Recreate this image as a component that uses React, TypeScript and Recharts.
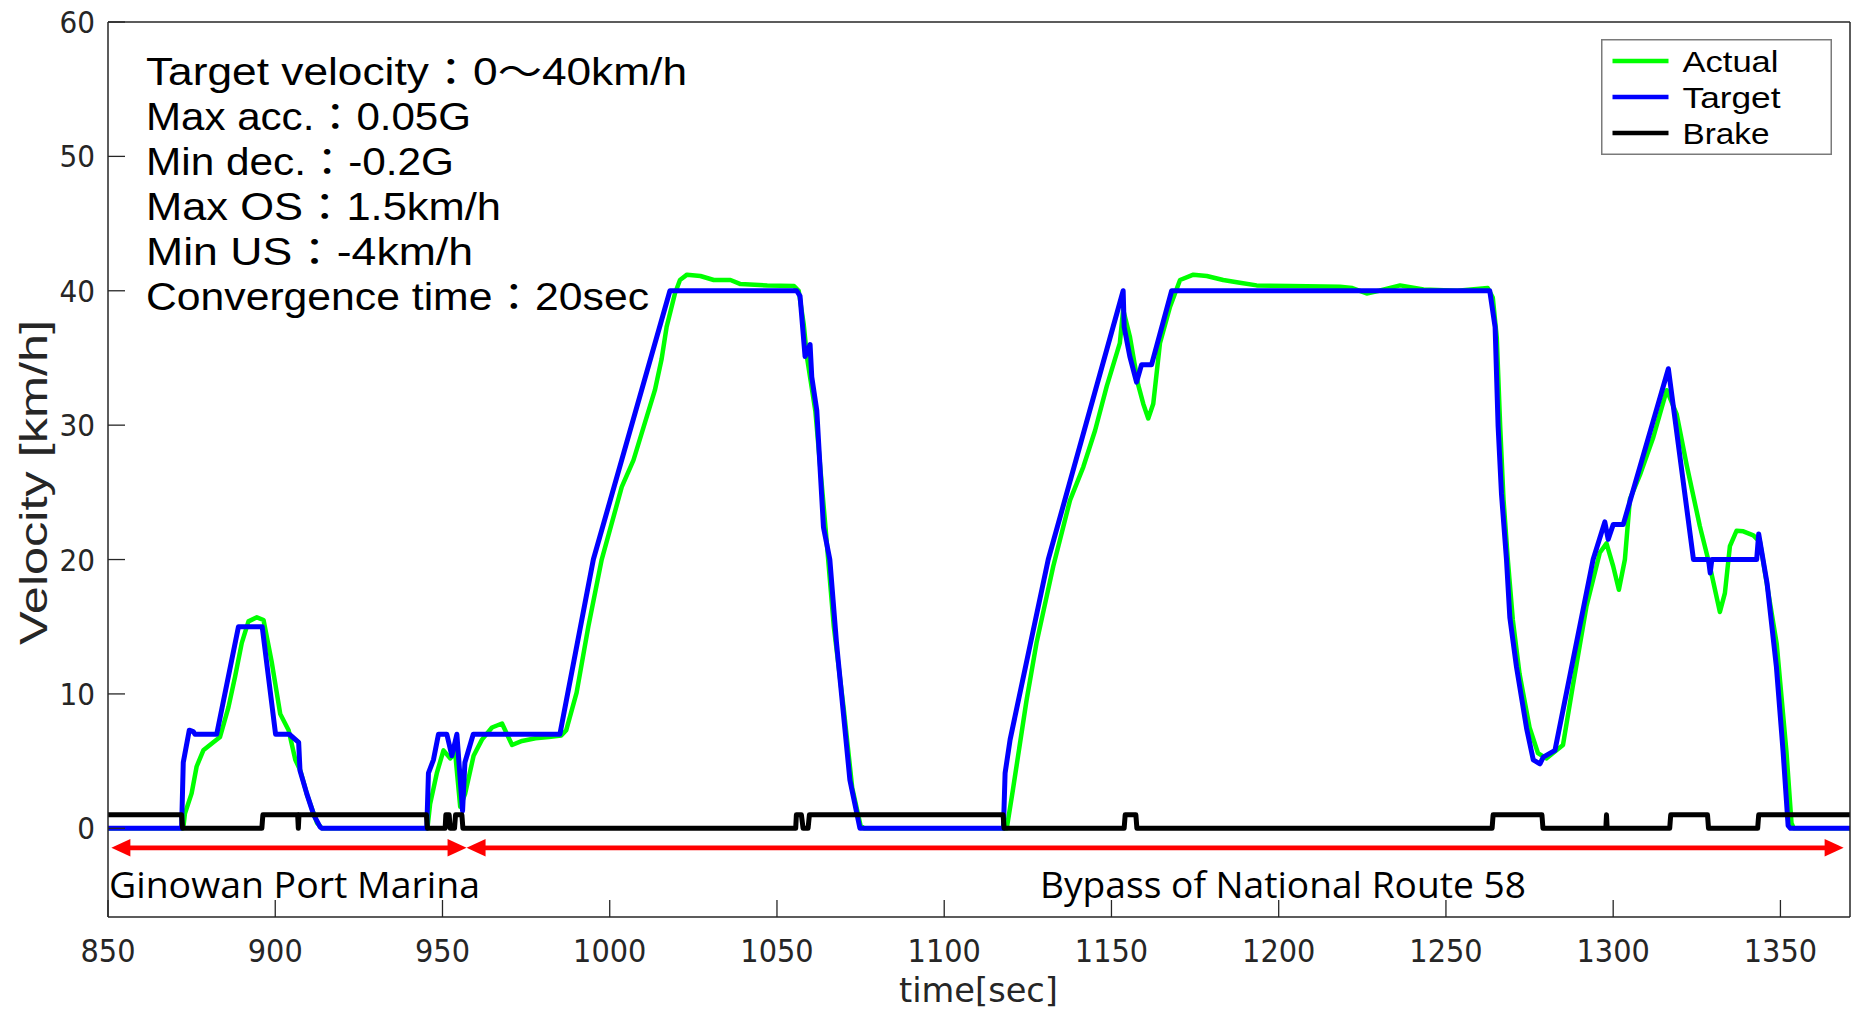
import React from 'react';
import { LineChart, Line, XAxis, YAxis, ReferenceLine, Legend } from 'recharts';

const xTicks = [850, 900, 950, 1000, 1050, 1100, 1150, 1200, 1250, 1300, 1350];
const yTicks = [0, 10, 20, 30, 40, 50, 60];
const xDomain: [number, number] = [850, 1370.8];
const yDomain: [number, number] = [-6.6, 60];

const actualTime = [
  850, 872.5, 873, 875, 876.5, 878.5, 881.5, 883.5, 886, 888, 890, 892, 894.5, 896.5, 899, 901.5, 904, 906, 907.5, 909.5, 912.5, 914,
  945.5, 946.3, 948.3, 950.3, 952.3, 953.8, 955.3, 956.8, 959.3, 961.8, 964.8, 967.8, 970.8, 973.8, 977.8, 981.8, 985.5,
  987, 990.1, 993.6, 997.6, 1003.6, 1007.1, 1013.5, 1015.5, 1017, 1019.5, 1021, 1023.1, 1027.1, 1031.1, 1036.1, 1039.1, 1047.1, 1055.1,
  1056.5, 1058, 1059, 1061.5, 1064.5, 1067, 1070, 1072.5, 1075, 1076,
  1118.7, 1120.5, 1124.6, 1127.6, 1132.6, 1137.6, 1141.6, 1145.1, 1148.6, 1152.5, 1153.5, 1155.5, 1158, 1159.5, 1161, 1162.5, 1164.5,
  1167.5, 1170.5, 1174.5, 1178.5, 1183.4, 1188.4, 1193.4, 1203.4, 1218.3, 1222, 1226.3, 1230, 1236.3, 1243.3, 1253.4, 1262.5,
  1264, 1265.2, 1266.2, 1267.2, 1268.5, 1270, 1272, 1275, 1277.5, 1280, 1285, 1288, 1292, 1296, 1298, 1300, 1301.7, 1303.5, 1305,
  1308, 1312, 1316, 1319, 1322, 1325.9, 1328.9, 1331.9, 1333.4, 1334.9, 1336.9, 1338.9, 1341.9, 1343.9, 1348.9, 1351.8, 1353.3, 1354, 1370.8,
];
const actualVel = [
  0, 0, 1.1, 2.6, 4.6, 5.8, 6.4, 6.8, 9.0, 11.3, 13.8, 15.4, 15.7, 15.5, 12.3, 8.5, 7.3, 5.1, 4.3, 2.5, 0.4, 0,
  0, 1.8, 4.1, 5.8, 5.2, 5.6, 1.6, 2.6, 5.4, 6.6, 7.5, 7.8, 6.2, 6.5, 6.7, 6.8, 6.9,
  7.3, 10.1, 15.0, 20.0, 25.4, 27.4, 32.6, 34.9, 37.3, 39.8, 40.8, 41.2, 41.1, 40.8, 40.8, 40.5, 40.4, 40.35,
  40.0, 37.5, 35.0, 31.0, 22.4, 15.0, 8.8, 3.0, 0.2, 0,
  0, 2.8, 9.5, 13.8, 19.5, 24.4, 26.9, 29.6, 32.9, 36.1, 38.6, 36.6, 33.0, 31.6, 30.5, 31.6, 36.1,
  38.8, 40.8, 41.2, 41.1, 40.8, 40.6, 40.4, 40.35, 40.3, 40.2, 39.8, 40.0, 40.4, 40.1, 40.0, 40.2,
  39.5, 36.5, 30.0, 24.5, 20.0, 15.5, 11.5, 7.5, 5.6, 5.2, 6.2, 10.7, 16.5, 20.5, 21.2, 19.5, 17.75, 20.0, 24.5,
  26.3, 29.1, 32.6, 30.8, 27.0, 22.5, 19.5, 16.1, 17.5, 21.0, 22.15, 22.1, 21.8, 21.3, 13.7, 5.7, 0.4, 0, 0,
];

const targetTime = [
  850, 872.0, 872.5, 874.3, 875.5, 876, 882.5, 889.0, 896.1, 900.1, 904.2, 907.0, 907.4, 909.4, 911.5, 913.4, 914,
  945.3, 945.8, 947.3, 948.8, 951.3, 952.8, 954.3, 956.0, 956.7, 959.2, 985.1, 995.1, 1018.0, 1055.9, 1056.9, 1058.4,
  1059.9, 1060.4, 1061.9, 1063.9, 1065.8, 1067.8, 1071.8, 1074.8,
  1117.7, 1118.2, 1119.7, 1131.1, 1153.5, 1153.8, 1155.5, 1157.5, 1159.0, 1162.0, 1168.0,
  1263.1, 1264.7, 1265.6, 1266.6, 1268.1, 1269.1, 1271.1, 1274.1, 1276.1, 1278.1, 1279.1, 1282.6, 1294.0, 1297.5, 1298.5,
  1300.0, 1303.0, 1316.5, 1324.0, 1328.5, 1329.0, 1329.5, 1342.9, 1343.5, 1346.0, 1348.8, 1350.8, 1352.3, 1353, 1370.8,
];
const targetVel = [
  0, 0, 4.9, 7.3, 7.2, 7.0, 7.0, 15.0, 15.0, 7.0, 7.0, 6.4, 4.3, 2.6, 1.0, 0.1, 0,
  0, 4.1, 5.1, 7.0, 7.0, 5.4, 7.0, 1.3, 4.9, 7.0, 7.0, 20.0, 40.0, 40.0, 39.6, 35.1,
  36.0, 33.6, 31.1, 22.4, 20.0, 13.8, 3.6, 0,
  0, 4.1, 6.6, 20.0, 40.0, 37.3, 35.1, 33.2, 34.5, 34.5, 40.0,
  40.0, 37.3, 29.9, 24.9, 20.0, 15.7, 12.0, 7.45, 5.1, 4.8, 5.3, 5.8, 20.0, 22.8, 21.5,
  22.6, 22.6, 34.2, 20.0, 20.0, 19.0, 20.0, 20.0, 21.9, 18.25, 12.0, 5.7, 0.2, 0, 0,
];

const brakeTime = [
  850, 872.0, 872.3, 896.0, 896.3, 906.7, 906.9, 907.1, 945.2, 945.5,
  950.8, 951.0, 952.0, 952.3, 953.6, 953.9, 955.8, 956.1,
  1055.6, 1055.8, 1057.3, 1057.8, 1059.3, 1059.7, 1117.6, 1117.9,
  1153.8, 1154.1, 1157.3, 1157.6, 1263.8, 1264.1, 1278.7, 1279.0,
  1297.8, 1298.0, 1298.2, 1316.9, 1317.2, 1328.2, 1328.5, 1343.2, 1343.5, 1370.8,
];
const brakeVal = [
  1, 1, 0, 0, 1, 1, 0, 1, 1, 0,
  0, 1, 1, 0, 0, 1, 1, 0,
  0, 1, 1, 0, 0, 1, 1, 0,
  0, 1, 1, 0, 0, 1, 1, 0,
  0, 1, 0, 0, 1, 1, 0, 0, 1, 1,
];

const seriesNames = ['Actual', 'Target', 'Brake'];
const seriesColors = ['#00FF00', '#0000FF', '#000000'];

const annotationLines = [
  'Target velocity：0〜40km/h',
  'Max acc.：0.05G',
  'Min dec.：-0.2G',
  'Max OS：1.5km/h',
  'Min US：-4km/h',
  'Convergence time：20sec',
];
const sectionNames = ['Ginowan Port Marina', 'Bypass of National Route 58'];
const sectionStart = [851, 957.2];
const sectionEnd = [957.2, 1368.9];
const arrowLevel = -1.45;

const xLabel = 'time[sec]';
const yLabel = 'Velocity [km/h]';

const toPoints = (ts: number[], vs: number[]) => ts.map((t, i) => ({ t, v: vs[i] }));
const actualData = toPoints(actualTime, actualVel);
const targetData = toPoints(targetTime, targetVel);
const brakeData = toPoints(brakeTime, brakeVal);

const ArrowShape = (props: any) => {
  const { x1, y1, x2 } = props;
  const hl = 19;
  const hw = 8.7;
  const y = y1;
  return (
    <g>
      <line x1={x1 + hl - 1} y1={y} x2={x2 - hl + 1} y2={y} stroke="#FF0000" strokeWidth={4.7} />
      <polygon points={`${x1},${y} ${x1 + hl},${y - hw} ${x1 + hl},${y + hw}`} fill="#FF0000" />
      <polygon points={`${x2},${y} ${x2 - hl},${y - hw} ${x2 - hl},${y + hw}`} fill="#FF0000" />
    </g>
  );
};

const legendTextLen = [96, 98, 87];
const LegendBox = () => (
  <svg width={231} height={116} style={{ display: 'block' }}>
    <rect x={0.75} y={0.75} width={229.5} height={114.5} fill="#fff" stroke="#7a7a7a" strokeWidth={1.5} />
    {seriesNames.map((n, i) => (
      <g key={n}>
        <line x1={11.5} x2={67.5} y1={22 + i * 36} y2={22 + i * 36} stroke={seriesColors[i]} strokeWidth={4.7} />
        <text
          x={81.5}
          y={33 + i * 36}
          fontFamily="'Liberation Sans', Arial, sans-serif"
          fontSize={29}
          fill="#000"
          textLength={legendTextLen[i]}
          lengthAdjust="spacingAndGlyphs"
        >
          {n}
        </text>
      </g>
    ))}
  </svg>
);

const annoLen = [541, 325, 308, 355, 327, 503];
const axisColor = '#262626';
const tickFont = "'DejaVu Sans Condensed', 'DejaVu Sans', sans-serif";
const annoFont = "'Liberation Sans', Arial, 'Noto Sans CJK JP', sans-serif";

// plot box: left 108, right 1850, top 22, bottom 917
const AX_B = 50;
const AX_L = 50;

export default function App() {
  return (
    <div style={{ position: 'absolute', left: 0, top: 0, width: 1854, height: 1010, background: '#fff' }}>
      <LineChart width={1854} height={1010} margin={{ top: 21, right: 3, bottom: 93 - AX_B, left: 108 - AX_L }}>
        <XAxis
          xAxisId="b"
          dataKey="t"
          type="number"
          domain={xDomain}
          allowDataOverflow
          ticks={xTicks}
          interval={0}
          height={AX_B}
          tickSize={-17}
          tickMargin={39}
          axisLine={{ stroke: axisColor, strokeWidth: 1.5 }}
          tickLine={{ stroke: axisColor, strokeWidth: 1.3 }}
          tick={{ fill: axisColor, fontSize: 32, fontFamily: tickFont, fontStretch: 'condensed' }}
        />
        <XAxis
          xAxisId="top"
          dataKey="t"
          orientation="top"
          type="number"
          domain={xDomain}
          allowDataOverflow
          ticks={xTicks}
          interval={0}
          height={1}
          tickSize={-17}
          axisLine={{ stroke: axisColor, strokeWidth: 1.5 }}
          tickLine={{ stroke: axisColor, strokeWidth: 1.3 }}
          tick={false}
        />
        <YAxis
          yAxisId="l"
          type="number"
          domain={yDomain}
          allowDataOverflow
          ticks={yTicks}
          interval={0}
          width={AX_L}
          tickSize={-17}
          tickMargin={30}
          axisLine={{ stroke: axisColor, strokeWidth: 1.5 }}
          tickLine={{ stroke: axisColor, strokeWidth: 1.3 }}
          tick={{ fill: axisColor, fontSize: 31, fontFamily: tickFont, fontStretch: 'condensed' }}
        />
        <YAxis
          yAxisId="r"
          orientation="right"
          type="number"
          domain={yDomain}
          allowDataOverflow
          ticks={yTicks}
          interval={0}
          width={1}
          tickSize={-17}
          axisLine={{ stroke: axisColor, strokeWidth: 1.5 }}
          tickLine={{ stroke: axisColor, strokeWidth: 1.3 }}
          tick={false}
        />
        <Line
          xAxisId="b"
          yAxisId="l"
          data={actualData}
          dataKey="v"
          name={seriesNames[0]}
          stroke={seriesColors[0]}
          strokeWidth={4.5}
          dot={false}
          activeDot={false}
          isAnimationActive={false}
          strokeLinejoin="round"
        />
        <Line
          xAxisId="b"
          yAxisId="l"
          data={targetData}
          dataKey="v"
          name={seriesNames[1]}
          stroke={seriesColors[1]}
          strokeWidth={5}
          dot={false}
          activeDot={false}
          isAnimationActive={false}
          strokeLinejoin="round"
        />
        <Line
          xAxisId="top"
          yAxisId="r"
          data={brakeData}
          dataKey="v"
          name={seriesNames[2]}
          stroke={seriesColors[2]}
          strokeWidth={5}
          dot={false}
          activeDot={false}
          isAnimationActive={false}
          strokeLinejoin="round"
        />
        {sectionStart.map((s, i) => (
          <ReferenceLine
            key={i}
            xAxisId="b"
            yAxisId="l"
            segment={[{ x: s, y: arrowLevel }, { x: sectionEnd[i], y: arrowLevel }]}
            stroke="#FF0000"
            shape={ArrowShape}
            ifOverflow="visible"
          />
        ))}
        <Legend
          layout="vertical"
          align="center"
          verticalAlign="middle"
          content={() => <LegendBox />}
          wrapperStyle={{ position: 'absolute', left: 1601, top: 39, width: 231, height: 116 }}
        />
      </LineChart>
      <svg
        width={1854}
        height={1010}
        style={{ position: 'absolute', left: 0, top: 0, pointerEvents: 'none' }}
      >
        {annotationLines.map((s, i) => (
          <text
            key={i}
            x={146}
            y={85 + i * 45}
            fontFamily={annoFont}
            fontSize={38}
            fill="#000"
            textLength={annoLen[i]}
            lengthAdjust="spacingAndGlyphs"
          >
            {s}
          </text>
        ))}
        <text x={109} y={898} fontFamily="'Open Sans', sans-serif" fontSize={37} fill="#000" textLength={371} lengthAdjust="spacingAndGlyphs">
          {sectionNames[0]}
        </text>
        <text x={1040} y={898} fontFamily="'Open Sans', sans-serif" fontSize={37} fill="#000" textLength={486} lengthAdjust="spacingAndGlyphs">
          {sectionNames[1]}
        </text>
        <text x={899} y={1002} fontFamily={tickFont} fontSize={33} fill={axisColor} textLength={159} lengthAdjust="spacingAndGlyphs">
          {xLabel}
        </text>
        <text
          transform="translate(47,645) rotate(-90)"
          x={0}
          y={0}
          fontFamily="'Liberation Sans', Arial, sans-serif"
          fontSize={39}
          fill={axisColor}
          textLength={325}
          lengthAdjust="spacingAndGlyphs"
        >
          {yLabel}
        </text>
      </svg>
    </div>
  );
}
